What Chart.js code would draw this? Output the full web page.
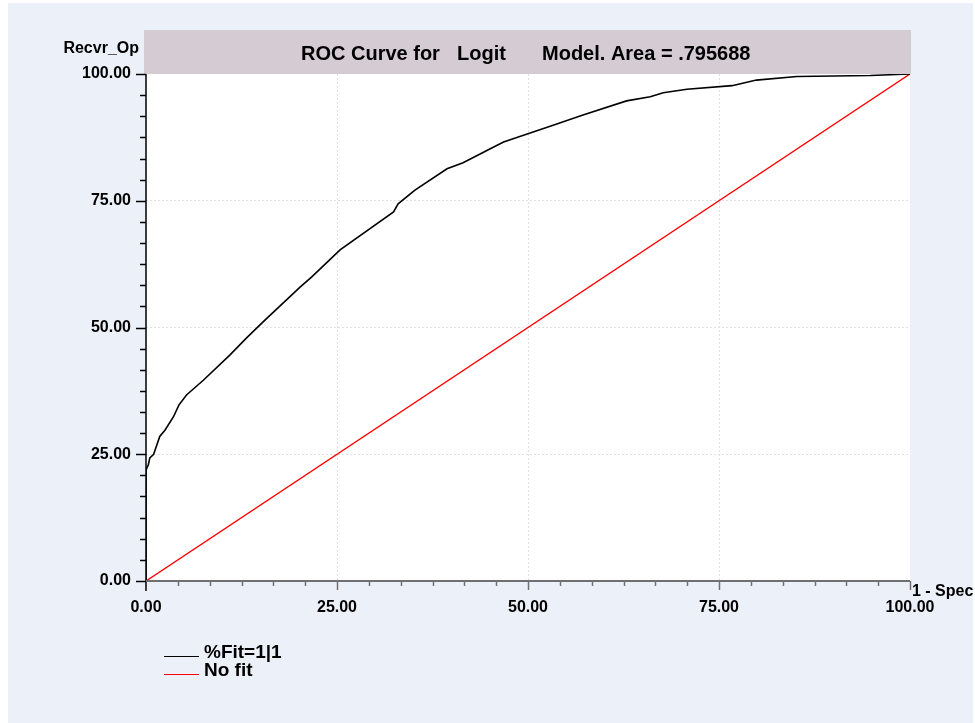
<!DOCTYPE html>
<html>
<head>
<meta charset="utf-8">
<title>ROC Curve</title>
<script src="https://cdn.jsdelivr.net/npm/chart.js@4.4.1/dist/chart.umd.min.js"></script>
<style>
    html, body { margin: 0; padding: 0; background: #ffffff; }
    #wrap { position: relative; width: 975px; height: 723px; }
</style>
</head>
<body>
<div id="wrap"><canvas id="chart-roc" width="975" height="723"></canvas></div>
<script>
// ROC curve: 1 - specificity (x) against sensitivity (y), both in percent
const SPEC_1 = [0, 0, 0.3, 0.5, 1.0, 1.8, 2.5, 3.6, 4.3, 5.3, 7.5, 11, 13.2, 15.6, 20.2, 21.7, 25.4, 32.4, 33, 35.2, 39.4, 41.5, 45, 46.8, 52.9, 57.2, 62.9, 66, 67.7, 70.8, 76.7, 79.9, 85.2, 94.8, 100];
const RECVR = [0, 21.9, 22.9, 24.3, 25, 28.5, 29.8, 32.4, 34.7, 36.7, 39.6, 44.6, 48, 51.5, 58, 60, 65.3, 72.8, 74.4, 77.1, 81.3, 82.5, 85.2, 86.6, 89.7, 91.9, 94.7, 95.5, 96.3, 97, 97.7, 98.8, 99.5, 99.7, 100];
const NOFIT_X = [0, 100];
const NOFIT_Y = [0, 100];

const SERIES_NAMES = ['%Fit=1|1', 'No fit'];
const TITLE_PARTS = ['ROC Curve for', 'Logit', 'Model. Area = .795688'];
const Y_TITLE = 'Recvr_Op';
const X_TITLE = '1 - Spec';

// 25 per major step, 6 minor steps in between
const AXIS_TICKS = [];
for (let i = 0; i <= 24; i++) AXIS_TICKS.push(i * 25 / 6);

const FONT = 'Arial, "Liberation Sans", sans-serif';

function isMajor(v) {
    return Math.abs(v / 25 - Math.round(v / 25)) < 1e-6;
}

function toPoints(xs, ys) {
    return xs.map(function(x, i) { return { x: x, y: ys[i] }; });
}

function gridColor(ctx) {
    var v = ctx.tick ? ctx.tick.value : 0;
    if (isMajor(v) && v > 0.01 && v < 99.99) return '#e0e0e8';
    return 'rgba(0,0,0,0)';
}

// page frame, title bar and white plot area
const framePlugin = {
    id: 'frame',
    beforeDraw(chart) {
        const ctx = chart.ctx;
        const a = chart.chartArea;
        ctx.save();
        ctx.fillStyle = '#ecf0f8';
        ctx.fillRect(8, 3, 965, 720);
        ctx.fillStyle = '#ffffff';
        ctx.fillRect(a.left, a.top, a.right - a.left, a.bottom - a.top);
        ctx.fillStyle = '#d5cbd3';
        ctx.fillRect(144, 30, 767, a.top - 30);

        ctx.fillStyle = '#000000';
        ctx.textBaseline = 'alphabetic';
        ctx.font = 'bold 20px ' + FONT;
        ctx.fillText(TITLE_PARTS[0], 301, 60);
        ctx.fillText(TITLE_PARTS[1], 457, 60);
        ctx.fillText(TITLE_PARTS[2], 542, 60);
        ctx.restore();
    },
    afterDraw(chart) {
        const ctx = chart.ctx;
        const a = chart.chartArea;
        const xs = chart.scales.x;
        const ys = chart.scales.y;
        ctx.save();

        // y axis with ticks pointing left
        ctx.strokeStyle = '#000000';
        ctx.lineWidth = 1.5;
        ctx.beginPath();
        ctx.moveTo(a.left, a.top);
        ctx.lineTo(a.left, a.bottom + 10);
        AXIS_TICKS.forEach(function(v) {
            const y = Math.round(ys.getPixelForValue(v)) + 0.5;
            const len = isMajor(v) ? 10 : 6;
            ctx.moveTo(a.left, y);
            ctx.lineTo(a.left - len, y);
        });
        ctx.stroke();

        // x axis with ticks pointing down
        ctx.strokeStyle = '#707070';
        ctx.lineWidth = 2;
        ctx.beginPath();
        ctx.moveTo(a.left, a.bottom);
        ctx.lineTo(a.right, a.bottom);
        ctx.stroke();
        ctx.lineWidth = 1.5;
        ctx.beginPath();
        AXIS_TICKS.forEach(function(v) {
            if (v === 0) return;
            const x = Math.round(xs.getPixelForValue(v)) + 0.5;
            const len = isMajor(v) ? 9 : 5;
            ctx.moveTo(x, a.bottom);
            ctx.lineTo(x, a.bottom + len);
        });
        ctx.stroke();

        // axis titles
        ctx.fillStyle = '#000000';
        ctx.font = 'bold 16px ' + FONT;
        ctx.textAlign = 'right';
        ctx.textBaseline = 'alphabetic';
        ctx.fillText(Y_TITLE, 139, 53);
        ctx.textAlign = 'left';
        ctx.fillText(X_TITLE, a.right + 2, a.bottom + 15);

        // legend below the plot
        ctx.font = 'bold 19px ' + FONT;
        const rows = [656, 674];
        chart.data.datasets.forEach(function(ds, i) {
            ctx.strokeStyle = ds.borderColor;
            ctx.lineWidth = 1.2;
            ctx.beginPath();
            ctx.moveTo(164, rows[i] + 0.5);
            ctx.lineTo(199, rows[i] + 0.5);
            ctx.stroke();
            ctx.fillStyle = '#000000';
            ctx.fillText(ds.label, 204, rows[i] + 2);
        });
        ctx.restore();
    }
};

const domChartRoc = document.getElementById('chart-roc');
new Chart(domChartRoc, {
    type: 'scatter',
    data: {
        datasets: [
            {
                label: SERIES_NAMES[0],
                data: toPoints(SPEC_1, RECVR),
                showLine: true,
                borderColor: '#000000',
                borderWidth: 1.6,
                pointRadius: 0,
                tension: 0
            },
            {
                label: SERIES_NAMES[1],
                data: toPoints(NOFIT_X, NOFIT_Y),
                showLine: true,
                borderColor: '#ff0000',
                borderWidth: 1.4,
                pointRadius: 0,
                tension: 0
            }
        ]
    },
    options: {
        responsive: false,
        animation: false,
        devicePixelRatio: 1,
        layout: {
            padding: { left: 0, top: 74, right: 65, bottom: 0 }
        },
        plugins: {
            legend: { display: false },
            title: { display: false },
            tooltip: { enabled: false }
        },
        scales: {
            x: {
                type: 'linear',
                min: 0,
                max: 100,
                afterBuildTicks(scale) {
                    scale.ticks = AXIS_TICKS.map(function(v) { return { value: v }; });
                },
                afterFit(scale) {
                    scale.height = 142;
                },
                grid: { color: gridColor, drawTicks: false, lineWidth: 1 },
                border: { display: false, dash: [2, 2] },
                ticks: {
                    autoSkip: false,
                    maxRotation: 0,
                    padding: 17,
                    color: '#000000',
                    font: { family: FONT, size: 16, weight: 'bold' },
                    callback(v) { return isMajor(v) ? v.toFixed(2) : ''; }
                }
            },
            y: {
                type: 'linear',
                min: 0,
                max: 100,
                afterBuildTicks(scale) {
                    scale.ticks = AXIS_TICKS.map(function(v) { return { value: v }; });
                },
                afterFit(scale) {
                    scale.width = 146;
                },
                grid: { color: gridColor, drawTicks: false, lineWidth: 1 },
                border: { display: false, dash: [2, 2] },
                ticks: {
                    autoSkip: false,
                    padding: 15,
                    color: '#000000',
                    font: { family: FONT, size: 16, weight: 'bold' },
                    callback(v) { return isMajor(v) ? v.toFixed(2) : ''; }
                }
            }
        }
    },
    plugins: [framePlugin]
});
</script>
</body>
</html>
